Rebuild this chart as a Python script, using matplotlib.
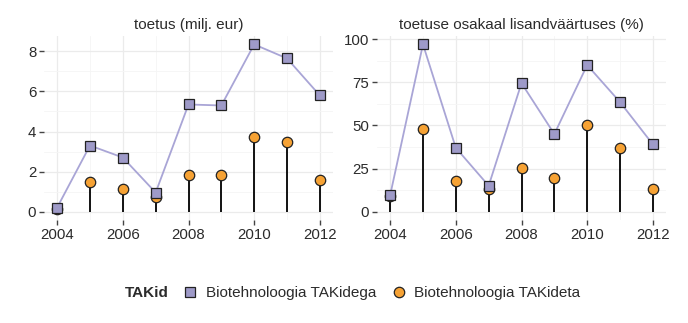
import matplotlib.pyplot as plt
from matplotlib.lines import Line2D
from matplotlib.ticker import MultipleLocator

plt.rcParams['font.family'] = ['Liberation Sans', 'DejaVu Sans']

years = [2004, 2005, 2006, 2007, 2008, 2009, 2010, 2011, 2012]

# toetus (milj. eur)
toetus_with = [0.2, 3.3, 2.7, 0.95, 5.35, 5.3, 8.35, 7.65, 5.8]
toetus_without = [0.15, 1.5, 1.15, 0.75, 1.85, 1.85, 3.75, 3.5, 1.6]

# toetuse osakaal lisandväärtuses (%)
share_with = [9.5, 97, 37, 15, 74.5, 45, 85, 63.5, 39]
share_without = [9, 48, 17.5, 13, 25.5, 19.5, 50.5, 37, 13]

titles = ["toetus (milj. eur)", "toetuse osakaal lisandväärtuses (%)"]
labels = ["Biotehnoloogia TAKidega", "Biotehnoloogia TAKideta"]

sq_fill = "#9e9ac8"
line_col = "#a9a5d6"
dot_fill = "#f6a234"
grid_major = "#ebebeb"
grid_minor = "#f5f5f5"
text_col = "#2b2b2b"

fig = plt.figure(figsize=(6.88, 3.23), dpi=100)
W, H = 688, 323
ax1 = fig.add_axes([44 / W, 1 - 220 / H, 289 / W, 184 / H])
ax2 = fig.add_axes([377 / W, 1 - 220 / H, 289 / W, 184 / H])


def draw(ax, with_vals, without_vals, title, ymaj, yminor, ylim):
    ax.vlines(years, 0, without_vals, color="black", lw=1.3, zorder=2)
    ax.plot(years, without_vals, "o", ms=7.5, mfc=dot_fill, mec="#222222",
            mew=0.9, zorder=3)
    ax.plot(years, with_vals, "-", color=line_col, lw=1.3, zorder=4)
    ax.plot(years, with_vals, "s", ms=7, mfc=sq_fill, mec="#222222",
            mew=0.9, zorder=5)
    ax.set_xlim(2003.6, 2012.4)
    ax.set_ylim(*ylim)
    ax.xaxis.set_major_locator(MultipleLocator(2))
    ax.xaxis.set_minor_locator(MultipleLocator(1))
    ax.yaxis.set_major_locator(MultipleLocator(ymaj))
    ax.yaxis.set_minor_locator(MultipleLocator(yminor))
    ax.grid(which="major", color=grid_major, lw=0.9, zorder=0)
    ax.grid(which="minor", color=grid_minor, lw=0.6, zorder=0)
    ax.set_axisbelow(True)
    for s in ax.spines.values():
        s.set_visible(False)
    ax.tick_params(which="major", length=3.5, width=1.0, color="#444444",
                   labelsize=10.8, labelcolor=text_col, pad=2)
    ax.tick_params(which="minor", length=0)
    ax.set_title(title, fontsize=11, color=text_col, pad=5)


draw(ax1, toetus_with, toetus_without, titles[0], 2, 1, (-0.42, 8.77))
draw(ax2, share_with, share_without, titles[1], 25, 12.5, (-4.85, 101.85))

handles = [
    Line2D([], [], ls="none", marker="s", ms=7, mfc=sq_fill, mec="#222222", mew=0.9),
    Line2D([], [], ls="none", marker="o", ms=7.5, mfc=dot_fill, mec="#222222", mew=0.9),
]
fig.text(125 / W, 1 - 293 / H, "TAKid", fontsize=11, fontweight="bold",
         color=text_col, va="center")
fig.legend(handles, labels, loc="center left", bbox_to_anchor=(169 / W, 1 - 293 / H),
           ncol=2, frameon=False, fontsize=11, handlelength=1.0, handletextpad=0.5,
           columnspacing=1.0, labelcolor=text_col)

fig.savefig("out.png", dpi=100)
